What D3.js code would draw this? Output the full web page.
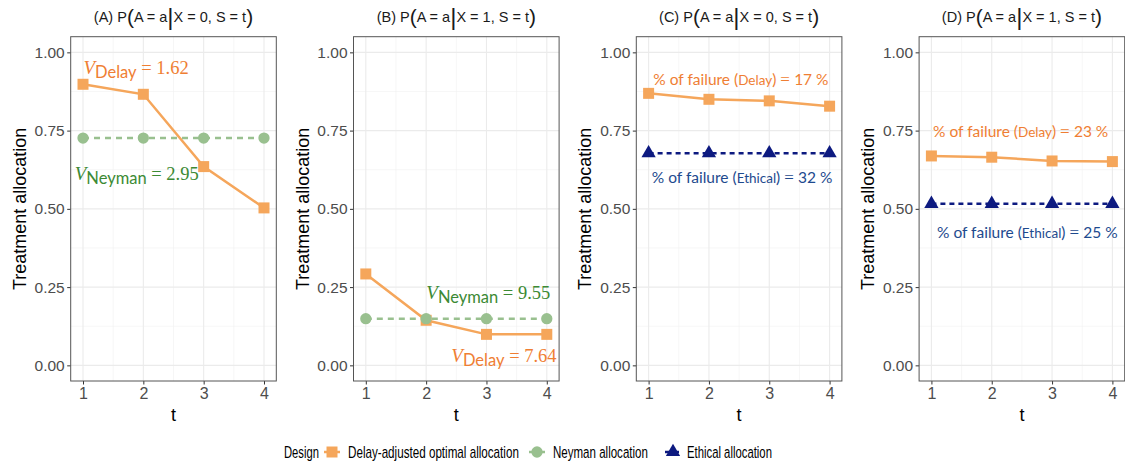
<!DOCTYPE html>
<html><head><meta charset="utf-8">
<script src="https://cdn.jsdelivr.net/npm/d3@7"></script>
<style>body{margin:0;background:#fff}svg{display:block}</style>
</head><body><svg id="c" width="1125" height="465"></svg>
<script>
// ---------- data ----------
const tVals = [1, 2, 3, 4];
const yTicks = [0, 0.25, 0.5, 0.75, 1];
const yTickLabels = ["0.00", "0.25", "0.50", "0.75", "1.00"];
const panelLetters = ["A", "B", "C", "D"];
const panelX = [0, 1, 0, 1];
const delayA = [0.898, 0.866, 0.635, 0.503];
const neymanA = [0.726, 0.726, 0.726, 0.726];
const delayB = [0.292, 0.144, 0.099, 0.099];
const neymanB = [0.149, 0.149, 0.149, 0.149];
const delayC = [0.869, 0.850, 0.845, 0.828];
const ethicalC = [0.678, 0.678, 0.678, 0.678];
const delayD = [0.669, 0.665, 0.653, 0.651];
const ethicalD = [0.516, 0.516, 0.516, 0.516];
const legendTitle = "Design";
const legendLabels = ["Delay-adjusted optimal allocation", "Neyman allocation", "Ethical allocation"];
// annotation texts (value label) and anchor in data coords
const annotA = [{kind:"V", sub:"Delay", val:"1.62", t:1.88, y:0.930, s:"delay"},
                {kind:"V", sub:"Neyman", val:"2.95", t:1.89, y:0.591, s:"neyman"}];
const annotB = [{kind:"V", sub:"Neyman", val:"9.55", t:3.03, y:0.212, s:"neyman"},
                {kind:"V", sub:"Delay", val:"7.64", t:3.29, y:0.012, s:"delay"}];
const annotC = [{kind:"F", sub:"Delay", val:"17", t:2.53, y:0.896, s:"delay"},
                {kind:"F", sub:"Ethical", val:"32", t:2.55, y:0.582, s:"ethical"}];
const annotD = [{kind:"F", sub:"Delay", val:"23", t:2.48, y:0.729, s:"delay"},
                {kind:"F", sub:"Ethical", val:"25", t:2.59, y:0.407, s:"ethical"}];

const panels = [
  {series:[{key:"neyman", v:neymanA}, {key:"delay", v:delayA}], annot:annotA},
  {series:[{key:"neyman", v:neymanB}, {key:"delay", v:delayB}], annot:annotB},
  {series:[{key:"ethical", v:ethicalC}, {key:"delay", v:delayC}], annot:annotC},
  {series:[{key:"ethical", v:ethicalD}, {key:"delay", v:delayD}], annot:annotD},
];

// ---------- style ----------
const col = {delay:"#F5A65B", neyman:"#99C08F", ethical:"#0D1A80"};
const txtCol = {delay:"#EF7E33", neyman:"#3C8A34", ethical:"#1E4A8E"};
const sansF = "'Liberation Sans', Arial, sans-serif";
const annF = "'Lato', 'Open Sans', sans-serif";
const serifF = "'Liberation Serif', 'DejaVu Serif', serif";

const svg = d3.select("#c");
const pW = 205.6, pTop = 36.7, pBottom = 381;
const y = d3.scaleLinear().domain([-0.05, 1.05]).range([pBottom, pTop]);

function symbolFor(k){
  if (k === "delay") return d3.symbol(d3.symbolSquare, 121);
  if (k === "neyman") return d3.symbol(d3.symbolCircle, 100);
  return d3.symbol(d3.symbolTriangle, 88);
}

panels.forEach((p, i) => {
  const left = 70.7 + i * 282.8;
  const x = d3.scaleLinear().domain([0.796, 4.204]).range([left, left + pW]);
  const g = svg.append("g");

  const yMinor = [0.125, 0.375, 0.625, 0.875];
  const xMinor = [1.5, 2.5, 3.5];
  g.selectAll(".ym").data(yMinor).join("line")
    .attr("x1", left).attr("x2", left + pW).attr("y1", d => y(d)).attr("y2", d => y(d))
    .attr("stroke", "#F0F0F0").attr("stroke-width", 0.6);
  g.selectAll(".xm").data(xMinor).join("line")
    .attr("y1", pTop).attr("y2", pBottom).attr("x1", d => x(d)).attr("x2", d => x(d))
    .attr("stroke", "#F0F0F0").attr("stroke-width", 0.6);
  g.selectAll(".yM").data(yTicks).join("line")
    .attr("x1", left).attr("x2", left + pW).attr("y1", d => y(d)).attr("y2", d => y(d))
    .attr("stroke", "#EBEBEB").attr("stroke-width", 1.1);
  g.selectAll(".xM").data(tVals).join("line")
    .attr("y1", pTop).attr("y2", pBottom).attr("x1", d => x(d)).attr("x2", d => x(d))
    .attr("stroke", "#EBEBEB").attr("stroke-width", 1.1);

  const yAx = g.append("g").attr("transform", `translate(${left},0)`)
    .call(d3.axisLeft(y).tickValues(yTicks).tickFormat((d, j) => yTickLabels[j]).tickSize(3.5).tickPadding(2.5));
  const xAx = g.append("g").attr("transform", `translate(0,${pBottom})`)
    .call(d3.axisBottom(x).tickValues(tVals).tickFormat(d3.format("d")).tickSize(3.5).tickPadding(3));
  [yAx, xAx].forEach(a => {
    a.select(".domain").remove();
    a.selectAll(".tick line").attr("stroke", "#333").attr("stroke-width", 1);
    a.selectAll(".tick text").attr("fill", "#4D4D4D").style("font-family", sansF).style("font-size", "15.5px");
  });
  xAx.selectAll(".tick text").style("font-size", "16px");

  const line = d3.line().x((d, j) => x(tVals[j])).y(d => y(d));
  p.series.forEach(s => {
    const dash = s.key === "neyman" ? "6,5" : (s.key === "ethical" ? "5,4" : null);
    g.append("path").datum(s.v).attr("d", line).attr("fill", "none")
      .attr("stroke", col[s.key]).attr("stroke-width", 2.5)
      .attr("stroke-dasharray", dash);
  });
  const order = [...p.series].sort((a, b) => (a.key === "delay" ? -1 : 1) - (b.key === "delay" ? -1 : 1));
  order.forEach(s => {
    g.selectAll(null).data(s.v).join("path")
      .attr("d", symbolFor(s.key))
      .attr("transform", (d, j) => `translate(${x(tVals[j])},${y(d)})`)
      .attr("fill", col[s.key]);
  });

  g.append("rect").attr("x", left).attr("y", pTop).attr("width", pW).attr("height", pBottom - pTop)
    .attr("fill", "none").attr("stroke", "#555").attr("stroke-width", 1);

  p.annot.forEach(a => {
    const t = g.append("text").attr("x", x(a.t)).attr("y", y(a.y)).attr("text-anchor", "middle")
      .attr("fill", txtCol[a.s]);
    if (a.kind === "V") {
      t.append("tspan").attr("font-family", serifF).attr("font-style", "italic").attr("font-size", 19).text("V");
      t.append("tspan").attr("font-family", annF).attr("font-size", 16.5).attr("dy", 4).text(a.sub);
      t.append("tspan").attr("font-family", serifF).attr("font-size", 18.5).attr("dy", -4).text(" = " + a.val);
    } else {
      t.append("tspan").attr("font-family", annF).attr("font-size", 15.5).text("% of failure (");
      t.append("tspan").attr("font-family", annF).attr("font-size", 13.5).text(a.sub);
      t.append("tspan").attr("font-family", annF).attr("font-size", 15.5).text(") ");
      t.append("tspan").attr("font-family", serifF).attr("font-size", 17).text("= ");
      t.append("tspan").attr("font-family", annF).attr("font-size", 15.5).text(a.val + " %");
    }
  });

  const cx = left + pW / 2;
  const tt = g.append("text").attr("x", cx).attr("y", 22).attr("text-anchor", "middle")
    .attr("fill", "#1A1A1A").style("font-family", sansF).style("font-size", "14.5px");
  tt.append("tspan").text(`(${panelLetters[i]}) P`);
  tt.append("tspan").attr("font-size", 21).attr("dy", 2).attr("font-weight", 300).text("(");
  tt.append("tspan").attr("dy", -2).text("A = a");
  tt.append("tspan").attr("font-size", 24).attr("dy", 3).attr("font-weight", 300).text("|");
  tt.append("tspan").attr("dy", -3).text(`X = ${panelX[i]}, S = t`);
  tt.append("tspan").attr("font-size", 21).attr("dy", 2).attr("font-weight", 300).text(")");

  g.append("text").attr("x", cx).attr("y", 421).attr("text-anchor", "middle")
    .style("font-family", sansF).style("font-size", "18px").attr("fill", "#000").text("t");
  g.append("text").attr("transform", `translate(${left - 45},${(pTop + pBottom) / 2}) rotate(-90)`)
    .attr("text-anchor", "middle").style("font-family", sansF).style("font-size", "18px")
    .attr("fill", "#000").text("Treatment allocation");
});

// legend (text condensed horizontally to the reference's narrow face)
const lg = svg.append("g");
const lgY = 452;
function condensedText(str, x0, targetW){
  const t = lg.append("text").attr("x", 0).attr("y", 0)
    .style("font-family", sansF).style("font-size", "17px").text(str);
  const w = t.node().getComputedTextLength();
  t.attr("transform", `translate(${x0},${lgY + 6}) scale(${targetW / w},1)`);
}
condensedText(legendTitle, 284, 35);
const lgTextW = [171, 95, 85];
const keyX = [332, 537, 673];
const textX = [348, 553, 687];
["delay", "neyman", "ethical"].forEach((k, j) => {
  lg.append("line").attr("x1", keyX[j] - 8).attr("x2", keyX[j] + 8).attr("y1", lgY).attr("y2", lgY)
    .attr("stroke", col[k]).attr("stroke-width", 2.5)
    .attr("stroke-dasharray", k === "neyman" ? "6,5" : (k === "ethical" ? "5,4" : null));
  lg.append("path").attr("d", symbolFor(k)).attr("transform", `translate(${keyX[j]},${lgY})`).attr("fill", col[k]);
  condensedText(legendLabels[j], textX[j], lgTextW[j]);
});
</script></body></html>
